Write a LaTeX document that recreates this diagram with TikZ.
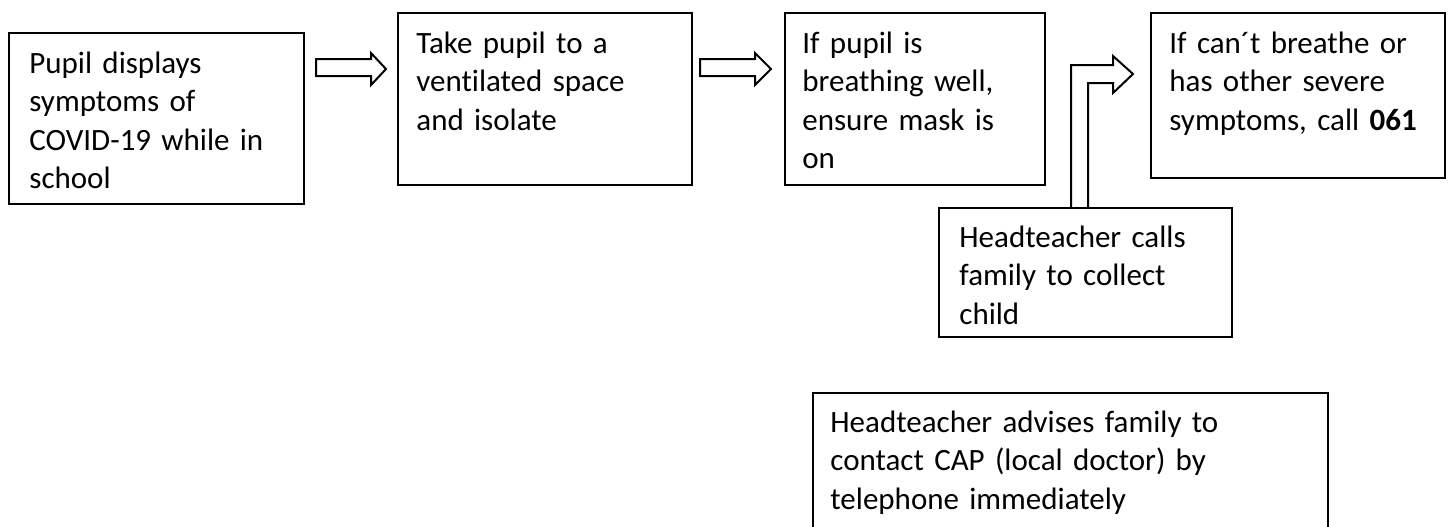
\documentclass[tikz,border=0pt]{standalone}
\usepackage{fontspec}
\setmainfont{Carlito}[Ligatures=NoCommon]
\usepackage{tikz}
\usetikzlibrary{calc,positioning}
\tikzset{
		>=stealth,
		stepbox/.style={draw,line width=1pt,anchor=north west,inner sep=0pt},
		steptext/.style={anchor=base west,inner sep=0pt,text width=250pt,align=left,
			font=\fontsize{15.5}{19.25}\selectfont}
	}

\begin{document}
\begin{tikzpicture}[x=0.5pt,y=-0.5pt]
          \useasboundingbox (0,0) rectangle (1451,526);

          \node[stepbox,minimum width=147.5pt,minimum height=85.5pt] (pupil) at (8,32) {};
          \node[stepbox,minimum width=147pt,minimum height=86pt] (isolate) at (397,12) {};
          \node[stepbox,minimum width=130pt,minimum height=86pt] (breath) at (784,12) {};
          \node[stepbox,minimum width=147pt,minimum height=82.5pt] (severe) at (1150,12) {};
          \node[stepbox,minimum width=146.5pt,minimum height=64.5pt] (family) at (938,207) {};
          \node[stepbox,minimum width=257.5pt,minimum height=80pt] (doctor) at (812,392) {};

          \node[steptext] (pupiltxt) at ($(pupil.north west)+(21,41)$)
            {Pupil displays\\symptoms of\\COVID-19 while in\\school};
          \node[steptext] (isolatetxt) at ($(isolate.north west)+(19,41)$)
            {Take pupil to a\\ventilated space\\and isolate};
          \node[steptext] (breathtxt) at ($(breath.north west)+(18,41)$)
            {If pupil is\\breathing well,\\ensure mask is\\on};
          \node[steptext] (severetxt) at ($(severe.north west)+(19,41)$)
            {If can´t breathe or\\has other severe\\symptoms, call \textbf{061}};
          \node[steptext] (familytxt) at ($(family.north west)+(21,40)$)
            {Headteacher calls\\family to collect\\child};
          \node[steptext] (doctortxt) at ($(doctor.north west)+(18,40)$)
            {Headteacher advises family to\\contact CAP (local doctor) by\\telephone immediately};

          % block arrows
          \draw[line width=1pt] ($(pupil.north east)+(11,27)$) -- ++(55,0) -- ++(0,-6)
            -- ++(15,16) -- ++(-15,16) -- ++(0,-9) -- ++(-55,0) -- cycle;
          \draw[line width=1pt] ($(isolate.north east)+(7,47)$) -- ++(55,0) -- ++(0,-6)
            -- ++(16,16) -- ++(-16,16) -- ++(0,-9) -- ++(-55,0) -- cycle;

          \draw[line width=1pt] ($(family.north west)+(133,0)$) -- ++(0,-142) -- ++(42,0)
            -- ++(0,-9) -- ++(20,18) -- ++(-20,19) -- ++(0,-10) -- ++(-25,0)
            -- ($(family.north west)+(150,0)$);% bent arrow into severe

          \end{tikzpicture}
\end{document}
